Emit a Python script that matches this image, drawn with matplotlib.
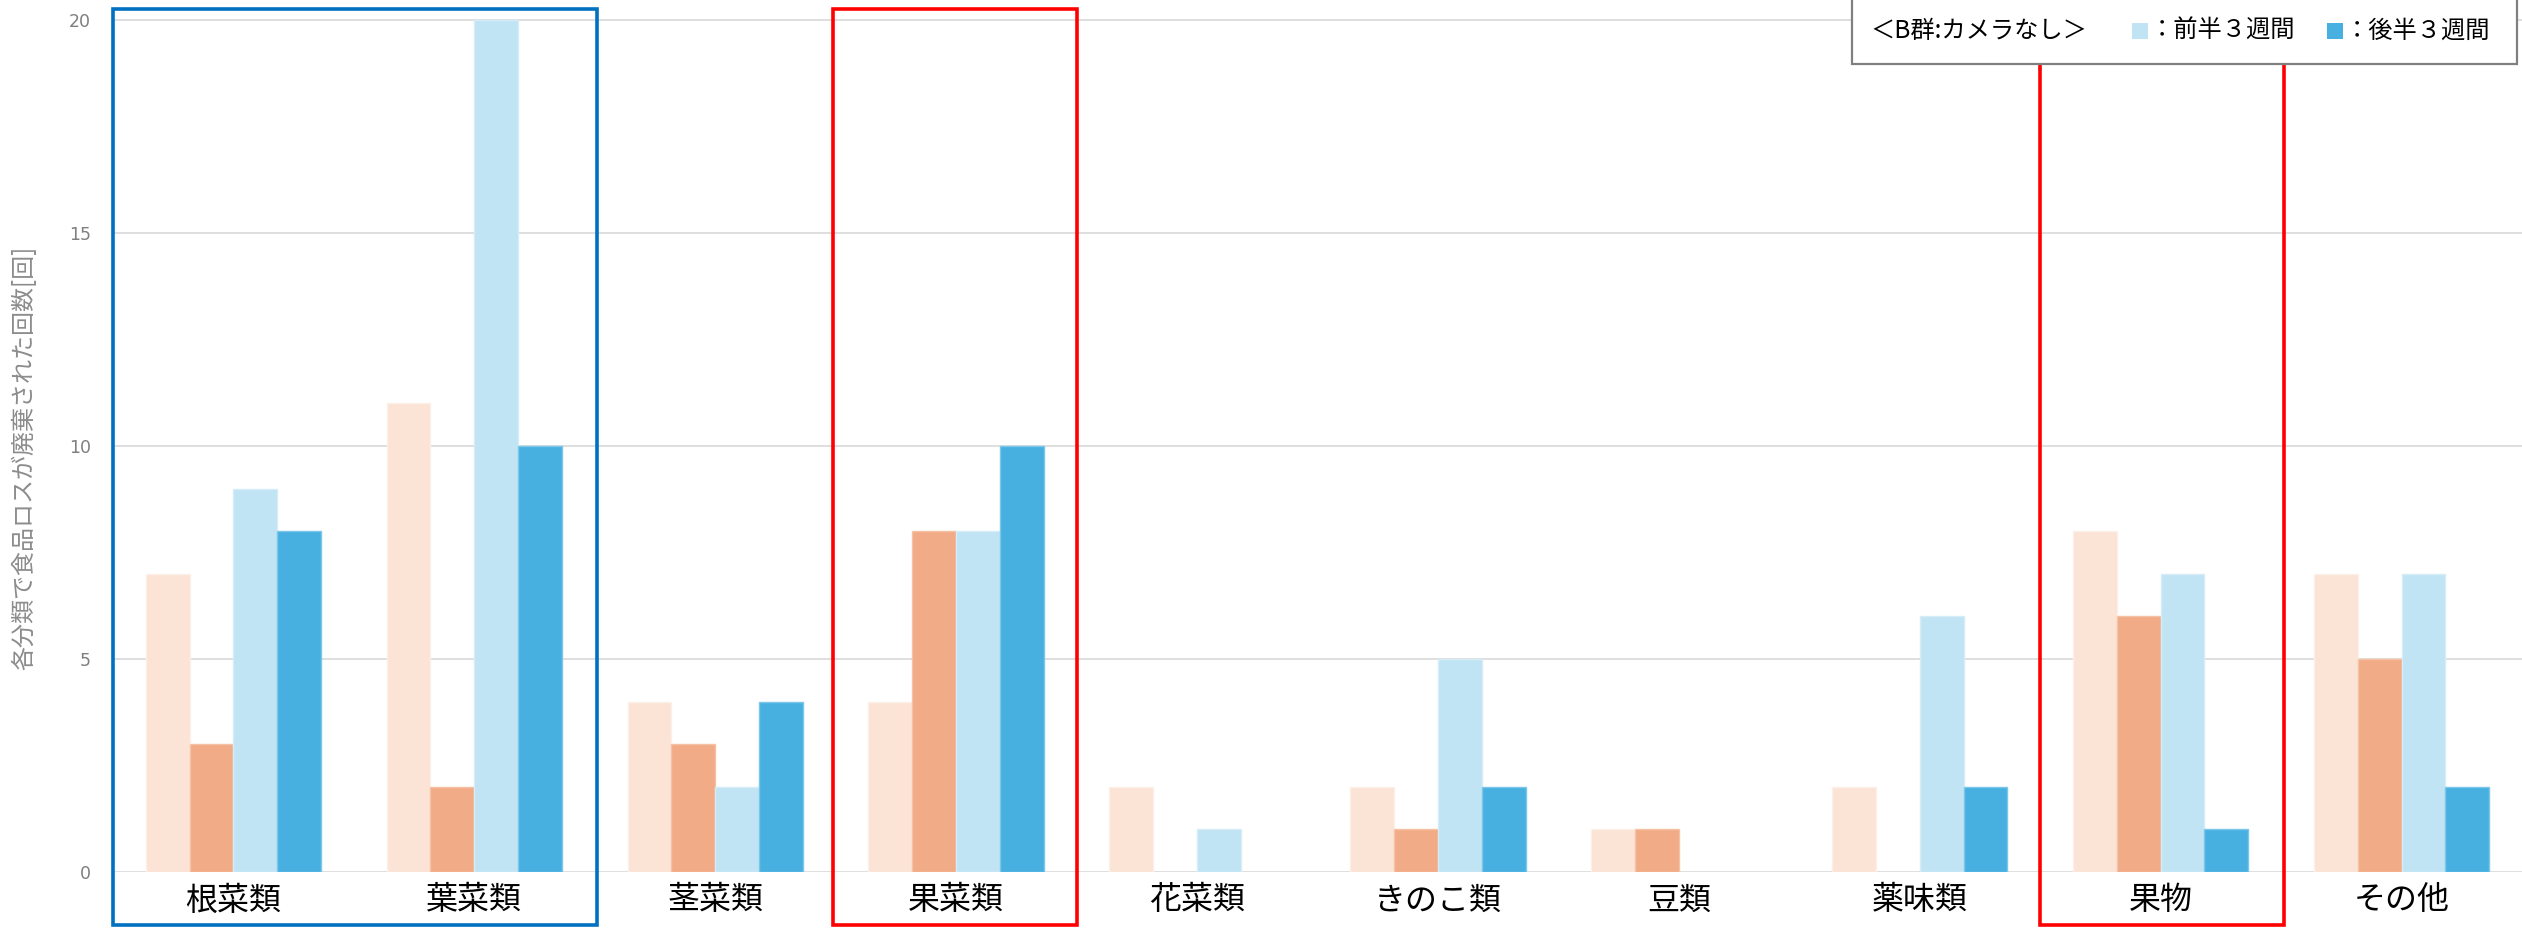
import matplotlib
matplotlib.use("Agg")
import matplotlib.pyplot as plt
from matplotlib.patches import Rectangle
import numpy as np

plt.rcParams['font.family'] = ['Noto Sans CJK JP', 'DejaVu Sans']

# 食品ロスの分類別回数
categories = ['根菜類', '葉菜類', '茎菜類', '果菜類', '花菜類', 'きのこ類', '豆類', '薬味類', '果物', 'その他']
a_first = [7, 11, 4, 4, 2, 2, 1, 2, 8, 7]     # A群 前半3週間
a_second = [3, 2, 3, 8, 0, 1, 1, 0, 6, 5]     # A群 後半3週間
b_first = [9, 20, 2, 8, 1, 5, 0, 6, 7, 7]     # B群 前半3週間
b_second = [8, 10, 4, 10, 0, 2, 0, 2, 1, 2]   # B群 後半3週間
y_ticks = [0, 5, 10, 15, 20]

colors = ['#FBE3D6', '#F1AB86', '#C1E4F5', '#47B0E0']
edges = ['#FDF0E9', '#F5C2A6', '#D6EDF8', '#7CC6EA']

fig = plt.figure(figsize=(25.22, 9.30), dpi=100)
ax = fig.add_axes([0.0448, 0.0624, 0.9552, 0.9172])

x = np.arange(len(categories))
w = 0.182
series = [a_first, a_second, b_first, b_second]
for i, vals in enumerate(series):
    lw = [0 if v == 0 else 1.0 for v in vals]
    ax.bar(x + (i - 1.5) * w, vals, w, color=colors[i], edgecolor=edges[i],
           linewidth=lw, zorder=3)

ax.set_xlim(-0.5, len(categories) - 0.5)
ax.set_ylim(0, 20.02)
ax.set_yticks(y_ticks)
ax.yaxis.grid(True, color='#D9D9D9', linewidth=1.2, zorder=0)
ax.set_axisbelow(True)
for s in ax.spines.values():
    s.set_visible(False)
ax.tick_params(axis='y', length=0, pad=16, labelsize=12.5, labelcolor='#7F7F7F')
for lab in ax.get_yticklabels():
    lab.set_family('DejaVu Sans')
ax.set_xticks(x)
ax.set_xticklabels(categories, fontsize=23)
ax.tick_params(axis='x', length=0, pad=9, labelcolor='black')

fig.text(0.0095, 0.5075, '各分類で食品ロスが廃棄された回数[回]', rotation=90,
         ha='center', va='center', fontsize=17.3, color='#8C8C8C')

# 強調枠
boxes = [(-0.5, 1.51, '#0070C0'), (2.49, 3.50, '#FF0000'), (7.50, 8.51, '#FF0000')]
for x0, x1, c in boxes:
    ax.add_patch(Rectangle((x0, -1.24), x1 - x0, 21.5, fill=False, edgecolor=c,
                           linewidth=2.6, clip_on=False, zorder=5))

# 凡例
W, H = 2522, 930
fig.add_artist(Rectangle((1852 / W, 1 - 64 / H), 665 / W, 0.1, transform=fig.transFigure,
                         facecolor='white', edgecolor='#808080', linewidth=1.6, zorder=10))
ty = 1 - 31 / H
fig.text(1870 / W, ty, '＜B群:カメラなし＞', fontsize=17.5, va='center', zorder=11)
fig.add_artist(Rectangle((2132 / W, ty - 8 / H), 16 / W, 16 / H, transform=fig.transFigure,
                         facecolor=colors[2], edgecolor='none', zorder=11))
fig.text(2150 / W, ty, '：前半３週間', fontsize=17.5, va='center', zorder=11)
fig.add_artist(Rectangle((2327 / W, ty - 8 / H), 16 / W, 16 / H, transform=fig.transFigure,
                         facecolor=colors[3], edgecolor='none', zorder=11))
fig.text(2345 / W, ty, '：後半３週間', fontsize=17.5, va='center', zorder=11)

fig.savefig('out.png', dpi=100)
